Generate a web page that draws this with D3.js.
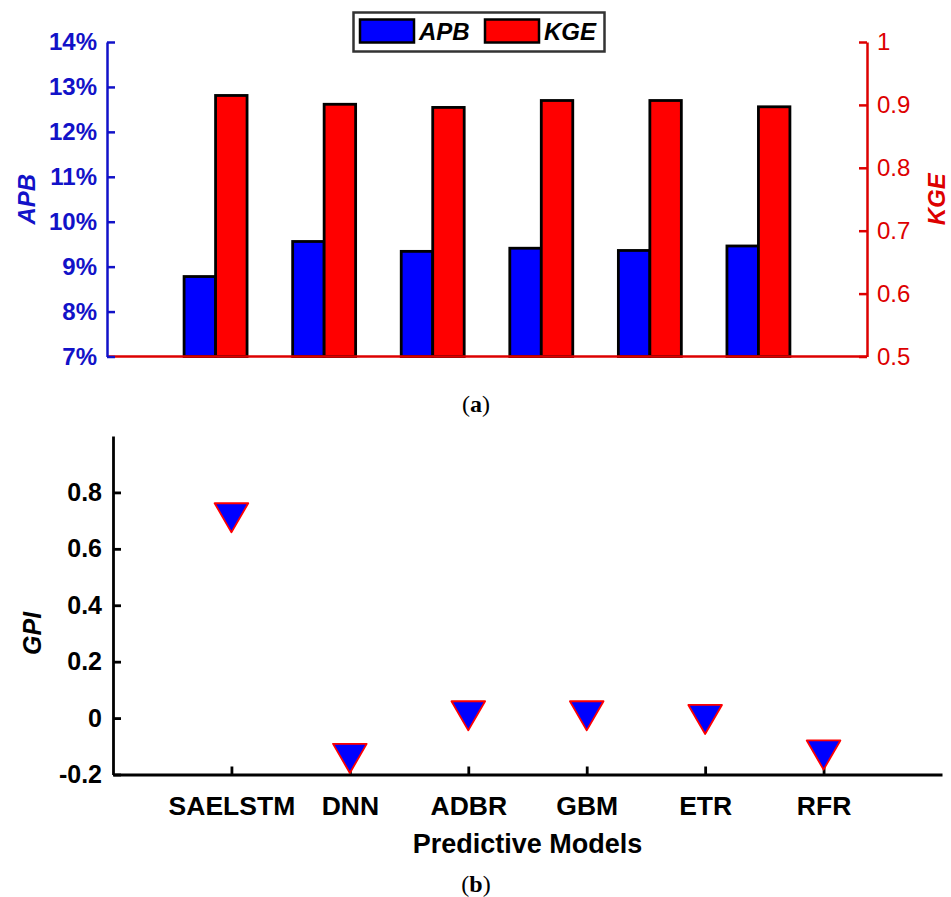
<!DOCTYPE html>
<html>
<head>
<meta charset="utf-8">
<script src="https://cdn.jsdelivr.net/npm/d3@7"></script>
<style>
  html, body { margin: 0; padding: 0; background: #fff; }
  svg { display: block; }
  text { font-family: "Liberation Sans", Arial, sans-serif; }
</style>
</head>
<body>
<svg id="chart" width="951" height="897"></svg>
<script>
// Model names shared by both panels
const models = ["SAELSTM", "DNN", "ADBR", "GBM", "ETR", "RFR"];
// Panel (a): absolute percentage bias (%) and Kling-Gupta efficiency
const apbValues = [8.78, 9.56, 9.34, 9.41, 9.36, 9.46];
const kgeValues = [0.915, 0.901, 0.896, 0.907, 0.907, 0.897];
// Panel (b): global performance indicator
const gpiValues = [0.71, -0.143, 0.008, 0.008, -0.005, -0.131];
// Tick values
const apbTicks = [7, 8, 9, 10, 11, 12, 13, 14];
const kgeTicks = [0.5, 0.6, 0.7, 0.8, 0.9, 1];
const gpiTicks = [-0.2, 0, 0.2, 0.4, 0.6, 0.8];

const BLUE = "#0000ff", RED = "#ff0000";
const AXIS_BLUE = "#1212c8", AXIS_RED = "#dd0000";
const svg = d3.select("#chart");

// ---------- Panel (a): grouped bars on twin axes ----------
const xa = d3.scaleLinear().domain([0, 7]).range([107, 867]);
const yApb = d3.scaleLinear().domain([7, 14]).range([356.5, 42]);
const yKge = d3.scaleLinear().domain([0.5, 1]).range([356.5, 42]);
const barW = 0.29; // bar width in category units

const ga = svg.append("g");
const rows = models.map((m, i) => ({ m, i: i + 1, apb: apbValues[i], kge: kgeValues[i] }));

ga.selectAll("rect.apb").data(rows).join("rect")
  .attr("class", "apb")
  .attr("x", d => xa(d.i - barW))
  .attr("width", d => xa(d.i) - xa(d.i - barW))
  .attr("y", d => yApb(d.apb))
  .attr("height", d => yApb(7) - yApb(d.apb))
  .attr("fill", BLUE).attr("stroke", "#000").attr("stroke-width", 2.8);

ga.selectAll("rect.kge").data(rows).join("rect")
  .attr("class", "kge")
  .attr("x", d => xa(d.i))
  .attr("width", d => xa(d.i + barW) - xa(d.i))
  .attr("y", d => yKge(d.kge))
  .attr("height", d => yKge(0.5) - yKge(d.kge))
  .attr("fill", RED).attr("stroke", "#000").attr("stroke-width", 2.8);

// red baseline
ga.append("line")
  .attr("x1", xa(0)).attr("x2", xa(7))
  .attr("y1", yApb(7)).attr("y2", yApb(7))
  .attr("stroke", AXIS_RED).attr("stroke-width", 2.5);

// left APB axis
const axL = ga.append("g").attr("transform", `translate(${xa(0)},0)`)
  .call(d3.axisLeft(yApb).tickValues(apbTicks).tickFormat(d => d + "%")
    .tickSizeInner(-8).tickSizeOuter(0).tickPadding(10));
axL.select(".domain").attr("stroke", AXIS_BLUE).attr("stroke-width", 2.5);
axL.selectAll(".tick line").attr("stroke", AXIS_BLUE).attr("stroke-width", 2.5);
axL.selectAll(".tick text").attr("fill", AXIS_BLUE)
  .style("font-size", "24px").style("font-weight", "bold")
  .style("font-family", "'Liberation Sans', Arial, sans-serif");

// right KGE axis
const axR = ga.append("g").attr("transform", `translate(${xa(7)},0)`)
  .call(d3.axisRight(yKge).tickValues(kgeTicks).tickFormat(d => String(d))
    .tickSizeInner(-8).tickSizeOuter(0).tickPadding(10));
axR.select(".domain").attr("stroke", AXIS_RED).attr("stroke-width", 2.5);
axR.selectAll(".tick line").attr("stroke", AXIS_RED).attr("stroke-width", 2.5);
axR.selectAll(".tick text").attr("fill", AXIS_RED)
  .style("font-size", "24px")
  .style("font-family", "'Liberation Sans', Arial, sans-serif");

// axis titles
ga.append("text")
  .attr("transform", `translate(35,${yApb(10.5)}) rotate(-90)`)
  .attr("text-anchor", "middle")
  .attr("fill", AXIS_BLUE)
  .style("font-size", "24px").style("font-weight", "bold").style("font-style", "italic")
  .text("APB");
ga.append("text")
  .attr("transform", `translate(945,${yApb(10.5)}) rotate(-90)`)
  .attr("text-anchor", "middle")
  .attr("fill", AXIS_RED)
  .style("font-size", "24px").style("font-weight", "bold").style("font-style", "italic")
  .text("KGE");

// legend
const leg = ga.append("g");
leg.append("rect").attr("x", 353.5).attr("y", 12.5).attr("width", 251).attr("height", 39)
  .attr("fill", "#fff").attr("stroke", "#333").attr("stroke-width", 2.5);
const legendItems = [
  { name: "APB", color: BLUE, x: 359 },
  { name: "KGE", color: RED, x: 484 }
];
legendItems.forEach(it => {
  leg.append("rect").attr("x", it.x + 1).attr("y", 19.5).attr("width", 54).attr("height", 23)
    .attr("fill", it.color).attr("stroke", "#000").attr("stroke-width", 2.5);
  leg.append("text").attr("x", it.x + 60).attr("y", 40)
    .style("font-size", "24px").style("font-weight", "bold").style("font-style", "italic")
    .attr("fill", "#000").text(it.name);
});

// caption (a)
const capA = svg.append("text").attr("x", 476).attr("y", 412).attr("text-anchor", "middle")
  .style("font-family", "'Liberation Serif', 'DejaVu Serif', serif").style("font-size", "24px");
capA.append("tspan").text("(");
capA.append("tspan").style("font-weight", "bold").text("a");
capA.append("tspan").text(")");

// ---------- Panel (b): GPI markers ----------
const xb = d3.scaleLinear().domain([0, 7]).range([113, 942]);
const yb = d3.scaleLinear().domain([-0.2, 1.0]).range([774.5, 436]);
const gb = svg.append("g");

const axB = gb.append("g").attr("transform", `translate(0,${yb(-0.2)})`)
  .call(d3.axisBottom(xb).tickValues(d3.range(1, 7)).tickFormat(i => models[i - 1])
    .tickSizeInner(-8).tickSizeOuter(0).tickPadding(22));
const axY = gb.append("g").attr("transform", `translate(${xb(0)},0)`)
  .call(d3.axisLeft(yb).tickValues(gpiTicks)
    .tickFormat(d => Math.abs(d) < 1e-9 ? "0" : d.toFixed(1))
    .tickSizeInner(-8).tickSizeOuter(0).tickPadding(11));
[axB, axY].forEach(a => {
  a.select(".domain").attr("stroke", "#000").attr("stroke-width", 2.8);
  a.selectAll(".tick line").attr("stroke", "#000").attr("stroke-width", 2.8);
  a.selectAll(".tick text").attr("fill", "#000")
    .style("font-size", "25px").style("font-weight", "bold")
    .style("font-family", "'Liberation Sans', Arial, sans-serif");
});
axB.selectAll(".tick text").style("font-size", "26.5px");

// downward triangle, centred on its bounding box
const triDown = {
  draw(ctx, size) {
    const s = Math.sqrt(size * 4 / Math.sqrt(3));
    const h = s * Math.sqrt(3) / 2;
    ctx.moveTo(-s / 2, -h / 2);
    ctx.lineTo(s / 2, -h / 2);
    ctx.lineTo(0, h / 2);
    ctx.closePath();
  }
};
gb.selectAll("path.gpi").data(gpiValues).join("path")
  .attr("class", "gpi")
  .attr("transform", (d, i) => `translate(${xb(i + 1)},${yb(d)})`)
  .attr("d", d3.symbol().type(triDown).size(490))
  .attr("fill", BLUE).attr("stroke", RED).attr("stroke-width", 1.8)
  .attr("stroke-linejoin", "round");

gb.append("text")
  .attr("transform", `translate(41,${yb(0.3)}) rotate(-90)`)
  .attr("text-anchor", "middle")
  .style("font-size", "25px").style("font-weight", "bold").style("font-style", "italic")
  .attr("fill", "#000").text("GPI");

gb.append("text")
  .attr("x", xb(3.5)).attr("y", 853).attr("text-anchor", "middle")
  .style("font-size", "27px").style("font-weight", "bold")
  .attr("fill", "#000").text("Predictive Models");

const capB = svg.append("text").attr("x", 476).attr("y", 892).attr("text-anchor", "middle")
  .style("font-family", "'Liberation Serif', 'DejaVu Serif', serif").style("font-size", "24px");
capB.append("tspan").text("(");
capB.append("tspan").style("font-weight", "bold").text("b");
capB.append("tspan").text(")");
</script>
</body>
</html>
